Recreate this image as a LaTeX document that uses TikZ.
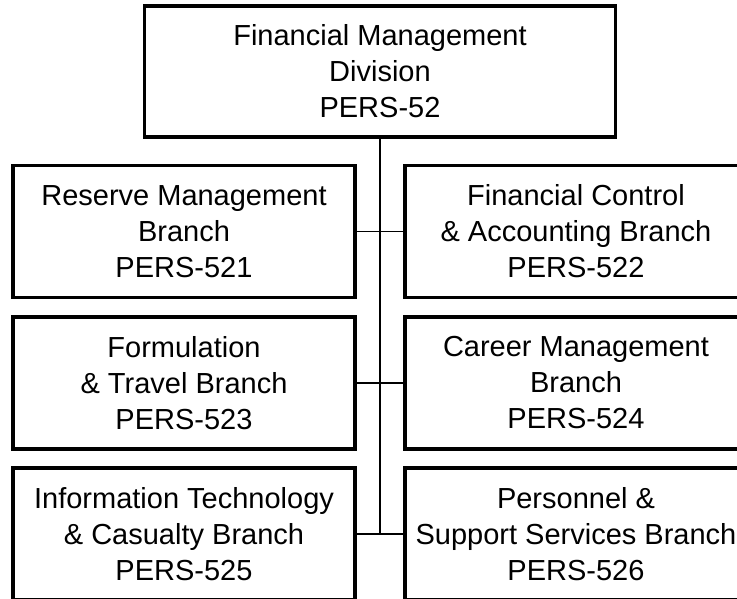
\documentclass[tikz,border=0pt]{standalone}
\usepackage{fontspec}
\setmainfont{Liberation Sans}
\begin{document}
\begin{tikzpicture}[x=1pt, y=-1pt,
  branch/.style={draw, line width=3.5pt, minimum width=342pt, minimum height=132pt, inner sep=0pt, align=center, font=\fontsize{29}{36}\selectfont},
  division/.style={branch, minimum width=471pt, minimum height=131pt},
  link/.style={line width=1.7pt}]
\useasboundingbox (0,0) rectangle (737,598);
\clip (0,0) rectangle (737,598);
\node[division] (fmd) at (380,71.5) {Financial Management\\Division\\PERS-52};
\node[branch] (b521) at (184,231.5) {Reserve Management\\Branch\\PERS-521};
\node[branch] (b522) at (576,231.5) {Financial Control\\\& Accounting Branch\\PERS-522};
\node[branch] (b523) at (184,383) {Formulation\\\& Travel Branch\\PERS-523};
\node[branch] (b524) at (576,383) {Career Management\\Branch\\PERS-524};
\node[branch] (b525) at (184,534) {Information Technology\\\& Casualty Branch\\PERS-525};
\node[branch] (b526) at (576,534) {Personnel \&\\Support Services Branch\\PERS-526};
\draw[link] (fmd) -- (fmd |- b525.east);
\draw[link] (b521) -- (b522);
\draw[link] (b523) -- (b524);
\draw[link] (b525) -- (b526);
\end{tikzpicture}
\end{document}
